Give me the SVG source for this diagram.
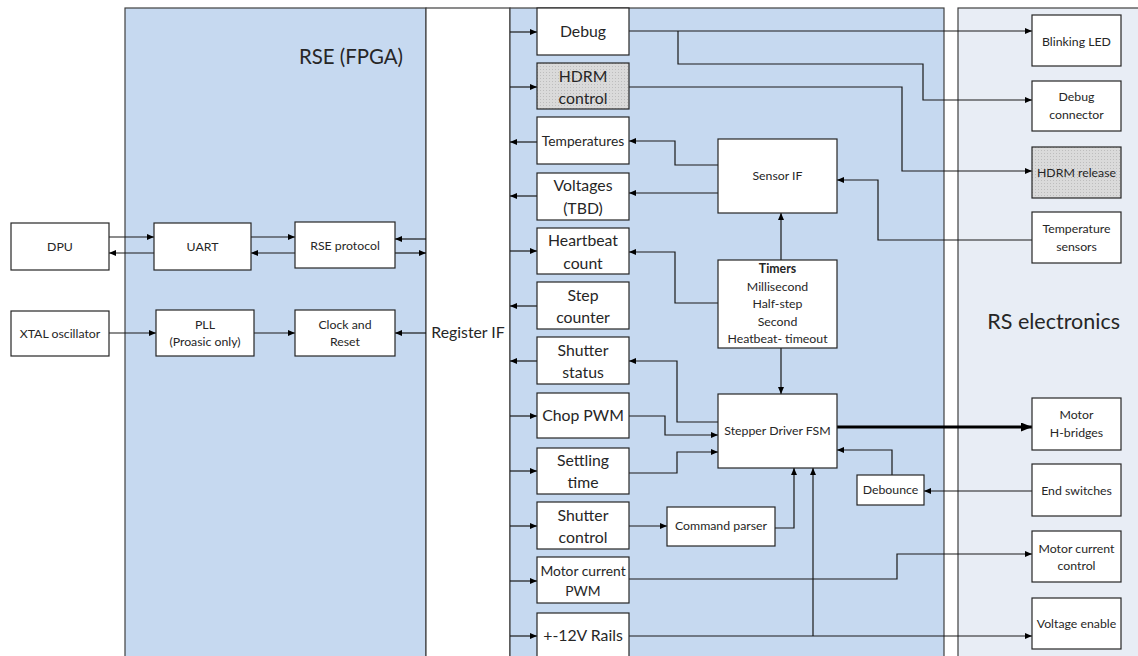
<svg xmlns="http://www.w3.org/2000/svg" width="1138" height="656" viewBox="0 0 1138 656">
  <style>
    text { font-family: Lato, "Liberation Sans", sans-serif; fill: #262626; text-anchor: middle; }
    .lg { font-size: 15.8px; }
    .md { font-size: 13.8px; }
    .sm { font-size: 12.3px; }
    .ttl { font-size: 20.4px; text-anchor: end; }
    .b { font-weight: bold; }
    .node { fill: #ffffff; stroke: #262626; stroke-width: 1.2; }
    .grey { fill: url(#dots); stroke: #262626; stroke-width: 1.2; }
    .panel { fill: #c6d9f0; stroke: #404040; stroke-width: 1.2; }
    .rs { fill: #e8edf5; stroke: #404040; stroke-width: 1.2; }
    .reg { fill: #ffffff; stroke: #404040; stroke-width: 1.2; }
    .wire { fill: none; stroke: #1a1a1a; stroke-width: 1.2; marker-end: url(#arr); }
    .thick { fill: none; stroke: #000000; stroke-width: 3; marker-end: url(#arrBig); }
  </style>
  <defs>
    <marker id="arr" markerUnits="userSpaceOnUse" markerWidth="8" markerHeight="7" refX="7" refY="3" orient="auto">
      <path d="M0,0 L7,3 L0,6 z" fill="#000"/>
    </marker>
    <marker id="arrBig" markerUnits="userSpaceOnUse" markerWidth="12" markerHeight="10" refX="11" refY="4.5" orient="auto">
      <path d="M0,0 L11,4.5 L0,9 z" fill="#000"/>
    </marker>
    <pattern id="dots" width="3" height="3" patternUnits="userSpaceOnUse">
      <rect width="3" height="3" fill="#dadada"/>
      <rect width="1" height="1" fill="#bdbdbd"/>
    </pattern>
  </defs>

  <rect width="1138" height="656" fill="#ffffff"/>

  <!-- Background panels -->
  <g id="panels">
    <rect class="panel" x="125" y="8" width="301" height="660"/>
    <rect class="reg" x="426" y="8" width="84" height="660"/>
    <rect class="panel" x="510" y="8" width="434" height="660"/>
    <rect class="rs" x="958" y="8" width="190" height="660"/>
    <text class="ttl" x="403" y="64">RSE (FPGA)</text>
    <text class="lg" x="468" y="338">Register IF</text>
    <text class="ttl" x="1120" y="329" style="font-size:21.5px">RS electronics</text>
  </g>

  <!-- Connectors -->
  <g id="connectors">
    <path class="wire" d="M109,237 H154"/>
    <path class="wire" d="M154,253 H109"/>
    <path class="wire" d="M251,237 H295"/>
    <path class="wire" d="M295,253 H251"/>
    <path class="wire" d="M426,239 H395"/>
    <path class="wire" d="M395,253 H426"/>
    <path class="wire" d="M109,333 H156"/>
    <path class="wire" d="M254,333 H295"/>
    <path class="wire" d="M426,333 H395"/>

    <path class="wire" d="M510,32 H537"/>
    <path class="wire" d="M510,87 H537"/>
    <path class="wire" d="M537,142 H510"/>
    <path class="wire" d="M537,196 H510"/>
    <path class="wire" d="M510,251 H537"/>
    <path class="wire" d="M537,306 H510"/>
    <path class="wire" d="M537,361 H510"/>
    <path class="wire" d="M510,416 H537"/>
    <path class="wire" d="M510,471 H537"/>
    <path class="wire" d="M510,526 H537"/>
    <path class="wire" d="M510,581 H537"/>
    <path class="wire" d="M510,636 H537"/>

    <path class="wire" d="M629,31 H1032"/>
    <path class="wire" d="M678,31 V64 H923 V100 H1032"/>
    <path class="wire" d="M629,87 H902 V171 H1032"/>
    <path class="wire" d="M718,165 H675 V141 H629"/>
    <path class="wire" d="M718,193 H629"/>
    <path class="wire" d="M1032,240 H878 V180 H837"/>
    <path class="wire" d="M781,260 V213"/>
    <path class="wire" d="M718,303 H675 V252 H629"/>
    <path class="wire" d="M781,348 V394"/>
    <path class="wire" d="M718,422 H677 V361 H629"/>
    <path class="wire" d="M629,416 H665 V435 H718"/>
    <path class="wire" d="M629,473 H677 V452 H718"/>
    <path class="wire" d="M629,526 H667"/>
    <path class="wire" d="M775,528 H794 V468"/>
    <path class="wire" d="M813,636 V468"/>
    <path class="wire" d="M629,636 H1032"/>
    <path class="wire" d="M629,579 H897 V554 H1032"/>
    <path class="thick" d="M837,427 H1032"/>
    <path class="wire" d="M1032,491 H924"/>
    <path class="wire" d="M892,475 V450 H837"/>
  </g>

  <!-- Left side: host and FPGA front end -->
  <g id="dpu"><rect class="node" x="11" y="223" width="98" height="47"/><text class="sm" x="60" y="251">DPU</text></g>
  <g id="uart"><rect class="node" x="154" y="223" width="97" height="47"/><text class="sm" x="202.5" y="251">UART</text></g>
  <g id="rse-protocol"><rect class="node" x="295" y="222" width="100" height="46"/><text class="sm" x="345" y="250">RSE protocol</text></g>
  <g id="xtal"><rect class="node" x="11" y="311" width="98" height="45"/><text class="sm" x="60" y="338">XTAL oscillator</text></g>
  <g id="pll"><rect class="node" x="156" y="310" width="98" height="46"/><text class="sm" x="205" y="329">PLL</text><text class="sm" x="205" y="346">(Proasic only)</text></g>
  <g id="clock-reset"><rect class="node" x="295" y="310" width="100" height="46"/><text class="sm" x="345" y="329">Clock and</text><text class="sm" x="345" y="346">Reset</text></g>

  <!-- Register blocks -->
  <g id="debug"><rect class="node" x="537" y="8" width="92" height="47"/><text class="lg" x="583" y="37">Debug</text></g>
  <g id="hdrm-control"><rect class="grey" x="537" y="63" width="92" height="46"/><text class="lg" x="583" y="82">HDRM</text><text class="lg" x="583" y="104">control</text></g>
  <g id="temperatures"><rect class="node" x="537" y="117" width="92" height="47"/><text class="md" x="583" y="146">Temperatures</text></g>
  <g id="voltages"><rect class="node" x="537" y="173" width="92" height="47"/><text class="lg" x="583" y="191">Voltages</text><text class="lg" x="583" y="214">(TBD)</text></g>
  <g id="heartbeat"><rect class="node" x="537" y="228" width="92" height="46"/><text class="lg" x="583" y="246">Heartbeat</text><text class="lg" x="583" y="269">count</text></g>
  <g id="step-counter"><rect class="node" x="537" y="282" width="92" height="47"/><text class="lg" x="583" y="301">Step</text><text class="lg" x="583" y="323">counter</text></g>
  <g id="shutter-status"><rect class="node" x="537" y="337" width="92" height="47"/><text class="lg" x="583" y="356">Shutter</text><text class="lg" x="583" y="378">status</text></g>
  <g id="chop-pwm"><rect class="node" x="537" y="393" width="92" height="45"/><text class="lg" x="583" y="421">Chop PWM</text></g>
  <g id="settling"><rect class="node" x="537" y="448" width="92" height="46"/><text class="lg" x="583" y="466">Settling</text><text class="lg" x="583" y="488">time</text></g>
  <g id="shutter-control"><rect class="node" x="537" y="502" width="92" height="47"/><text class="lg" x="583" y="521">Shutter</text><text class="lg" x="583" y="543">control</text></g>
  <g id="motor-pwm"><rect class="node" x="537" y="557" width="92" height="46"/><text class="md" x="583" y="576">Motor current</text><text class="md" x="583" y="596">PWM</text></g>
  <g id="rails"><rect class="node" x="537" y="613" width="92" height="50"/><text class="lg" x="583" y="641">+-12V Rails</text></g>

  <!-- Core logic -->
  <g id="sensor-if"><rect class="node" x="718" y="139" width="119" height="74"/><text class="sm" x="777.5" y="180">Sensor IF</text></g>
  <g id="timers"><rect class="node" x="718" y="260" width="119" height="88"/>
    <text class="sm b" x="777.5" y="273">Timers</text>
    <text class="sm" x="777.5" y="291">Millisecond</text>
    <text class="sm" x="777.5" y="308">Half-step</text>
    <text class="sm" x="777.5" y="326">Second</text>
    <text class="sm" x="777.5" y="343">Heatbeat- timeout</text>
  </g>
  <g id="stepper"><rect class="node" x="718" y="394" width="119" height="74"/><text class="sm" x="777.5" y="435">Stepper Driver FSM</text></g>
  <g id="command-parser"><rect class="node" x="667" y="507" width="108" height="39"/><text class="sm" x="721" y="530">Command parser</text></g>
  <g id="debounce"><rect class="node" x="857" y="475" width="67" height="30"/><text class="sm" x="890.5" y="494">Debounce</text></g>

  <!-- External electronics -->
  <g id="blinking-led"><rect class="node" x="1032" y="15" width="89" height="51"/><text class="sm" x="1076.5" y="46">Blinking LED</text></g>
  <g id="debug-connector"><rect class="node" x="1032" y="81" width="89" height="50"/><text class="sm" x="1076.5" y="101">Debug</text><text class="sm" x="1076.5" y="119">connector</text></g>
  <g id="hdrm-release"><rect class="grey" x="1032" y="147" width="89" height="51"/><text class="sm" x="1076.5" y="177">HDRM release</text></g>
  <g id="temp-sensors"><rect class="node" x="1032" y="212" width="89" height="51"/><text class="sm" x="1076.5" y="233">Temperature</text><text class="sm" x="1076.5" y="251">sensors</text></g>
  <g id="h-bridges"><rect class="node" x="1032" y="398" width="89" height="52"/><text class="sm" x="1076.5" y="419">Motor</text><text class="sm" x="1076.5" y="437">H-bridges</text></g>
  <g id="end-switches"><rect class="node" x="1032" y="464" width="89" height="52"/><text class="sm" x="1076.5" y="495">End switches</text></g>
  <g id="motor-current-control"><rect class="node" x="1032" y="531" width="89" height="51"/><text class="sm" x="1076.5" y="553">Motor current</text><text class="sm" x="1076.5" y="570">control</text></g>
  <g id="voltage-enable"><rect class="node" x="1032" y="598" width="89" height="51"/><text class="sm" x="1076.5" y="628">Voltage enable</text></g>
</svg>
